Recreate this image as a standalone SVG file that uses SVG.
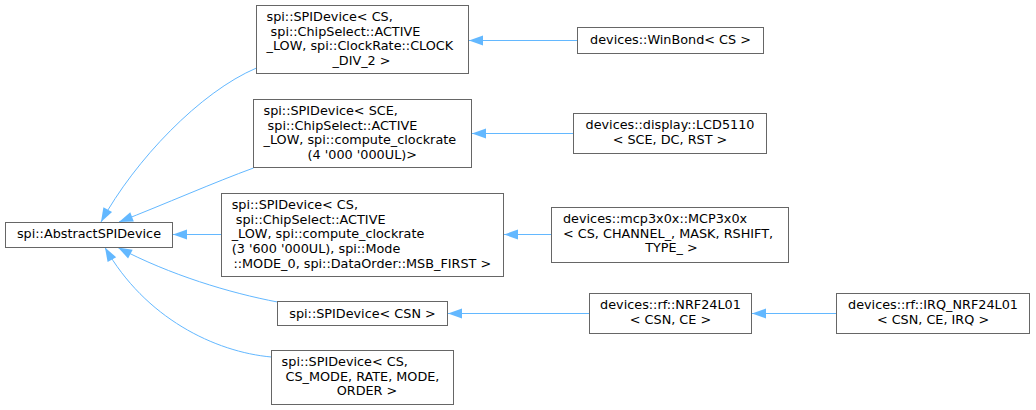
<svg xmlns="http://www.w3.org/2000/svg" width="1036" height="410" viewBox="0 0 1036 410">
<style>
.n rect{fill:#fff;stroke:#666;stroke-width:1}
text{font-family:"DejaVu Sans",sans-serif;font-size:12.8px;fill:#000}
.c{text-anchor:middle}
.e path{fill:none;stroke:#63b8ff;stroke-width:1;marker-end:url(#a)}
</style>
<defs>
<marker id="a" markerUnits="userSpaceOnUse" markerWidth="14" markerHeight="10" refX="13.5" refY="4.75" orient="auto" viewBox="0 0 13.5 9.5" overflow="visible">
<path d="M0,0 L13.5,4.75 L0,9.5 z" fill="#63b8ff"/>
</marker>
</defs>
<g class="e" id="edges">
<path d="M577,40.5 H469"/>
<path d="M573,133.5 H472"/>
<path d="M551,234.5 H504"/>
<path d="M221,234.5 H173"/>
<path d="M589,313.5 H448"/>
<path d="M836,313.5 H752"/>
<path d="M256.5,68 C200,92 135,160 101,222"/>
<path d="M253.5,168 C215,182 165,204 119,222"/>
<path d="M277.5,302 C230,293 170,275 118,247.5"/>
<path d="M271.5,357 C215,352 145,318 105,247.5"/>
</g>
<g class="n" id="abstract">
<rect x="5.5" y="222.5" width="167" height="25"/>
<text class="c" x="89" y="238">spi::AbstractSPIDevice</text>
</g>
<g class="n" id="spidev1">
<rect x="256.5" y="5.5" width="212" height="68"/>
<text x="266.5" y="21">spi::SPIDevice&lt; CS,</text>
<text x="270.6" y="35.7">spi::ChipSelect::ACTIVE</text>
<text x="266.5" y="50.4">_LOW, spi::ClockRate::CLOCK</text>
<text class="c" x="361.5" y="65.1">_DIV_2 &gt;</text>
</g>
<g class="n" id="spidev2">
<rect x="253.5" y="99.5" width="218" height="68"/>
<text x="263.5" y="115">spi::SPIDevice&lt; SCE,</text>
<text x="267.6" y="129.7">spi::ChipSelect::ACTIVE</text>
<text x="263.5" y="144.4">_LOW, spi::compute_clockrate</text>
<text class="c" x="362.3" y="159.1">(4 '000 '000UL)&gt;</text>
</g>
<g class="n" id="spidev3">
<rect x="221.5" y="193.5" width="282" height="83"/>
<text x="231.7" y="209">spi::SPIDevice&lt; CS,</text>
<text x="235.8" y="223.7">spi::ChipSelect::ACTIVE</text>
<text x="231.7" y="238.4">_LOW, spi::compute_clockrate</text>
<text x="231.7" y="253.1">(3 '600 '000UL), spi::Mode</text>
<text class="c" x="362.3" y="267.8">::MODE_0, spi::DataOrder::MSB_FIRST &gt;</text>
</g>
<g class="n" id="spidev_csn">
<rect x="277.5" y="301.5" width="170" height="24"/>
<text class="c" x="362.5" y="317.5">spi::SPIDevice&lt; CSN &gt;</text>
</g>
<g class="n" id="spidev_generic">
<rect x="271.5" y="350.5" width="182" height="54"/>
<text x="281.6" y="366">spi::SPIDevice&lt; CS,</text>
<text x="285.5" y="380.7">CS_MODE, RATE, MODE,</text>
<text class="c" x="367" y="395.4">ORDER &gt;</text>
</g>
<g class="n" id="winbond">
<rect x="577.5" y="27.5" width="186" height="26"/>
<text class="c" x="670.5" y="44">devices::WinBond&lt; CS &gt;</text>
</g>
<g class="n" id="lcd5110">
<rect x="573.5" y="113.5" width="193" height="40"/>
<text class="c" x="670" y="129.3">devices::display::LCD5110</text>
<text class="c" x="670" y="144">&lt; SCE, DC, RST &gt;</text>
</g>
<g class="n" id="mcp3x0x">
<rect x="551.5" y="207.5" width="237" height="55"/>
<text x="563" y="223">devices::mcp3x0x::MCP3x0x</text>
<text x="563" y="237.7">&lt; CS, CHANNEL_, MASK, RSHIFT,</text>
<text class="c" x="671.5" y="252.4">TYPE_ &gt;</text>
</g>
<g class="n" id="nrf24l01">
<rect x="589.5" y="293.5" width="162" height="40"/>
<text class="c" x="670.5" y="309">devices::rf::NRF24L01</text>
<text class="c" x="670.5" y="323.7">&lt; CSN, CE &gt;</text>
</g>
<g class="n" id="irq_nrf24l01">
<rect x="836.5" y="293.5" width="193" height="40"/>
<text class="c" x="933" y="309">devices::rf::IRQ_NRF24L01</text>
<text class="c" x="933" y="323.7">&lt; CSN, CE, IRQ &gt;</text>
</g>
</svg>
